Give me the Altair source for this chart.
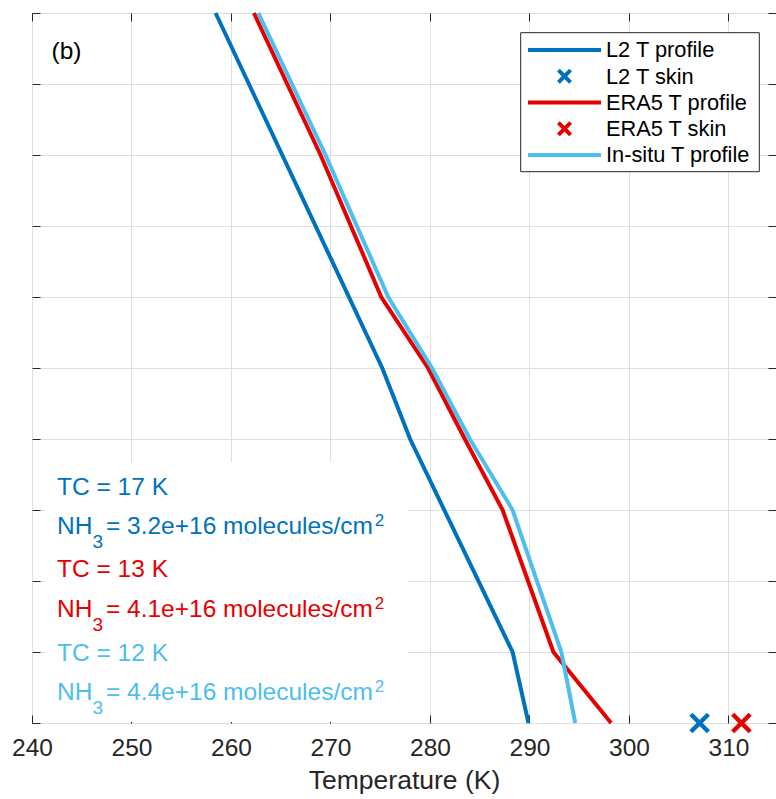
import altair as alt
import pandas as pd

# ---------------- data ----------------
series_names = ["L2 T profile", "L2 T skin", "ERA5 T profile", "ERA5 T skin", "In-situ T profile"]
series_colors = ["#0072BD", "#0072BD", "#E60000", "#E60000", "#4DBEEE"]

l2_level = [10, 5, 4, 1, 0]
l2_temp = [258.45, 275.2, 278.0, 288.3, 289.9]

era5_level = [10, 8, 6, 5, 4, 3, 1, 0]
era5_temp = [262.3, 269.0, 275.1, 279.8, 283.5, 287.3, 292.4, 298.2]

insitu_level = [10, 8, 6, 5, 4, 3, 1, 0]
insitu_temp = [262.75, 269.5, 275.8, 280.2, 284.0, 288.3, 293.2, 294.6]

skin_names = ["L2 T skin", "ERA5 T skin"]
skin_temp = [307.1, 311.3]
skin_level = [0, 0]

x_tick_values = [240, 250, 260, 270, 280, 290, 300, 310]
y_tick_values = [0, 1, 2, 3, 4, 5, 6, 7, 8, 9, 10]
x_title = "Temperature (K)"
panel_label = "(b)"

tc_texts = ["TC = 17 K", "TC = 13 K", "TC = 12 K"]
nh3_values = ["3.2e+16", "4.1e+16", "4.4e+16"]
annot_colors = ["#0072BD", "#E60000", "#4DBEEE"]

# ---------------- style / layout ----------------
FONT = "Liberation Sans"
INK = "#262626"
GRID = "#DFDFDF"
TICK = 8
LEFT, TOP = 32, 13
W, H = 744, 710
XPATH = "M-1,-1L1,1M1,-1L-1,1"


def px(x):
    return x - LEFT


def py(y):
    return y - TOP


ARIAL = {str(d): 0.556 for d in range(10)}
ARIAL.update({'.': 0.278, 'e': 0.556, '+': 0.584, '=': 0.584, ' ': 0.278, 'm': 0.833,
              'o': 0.556, 'l': 0.222, 'c': 0.5, 'u': 0.556, 's': 0.5, '/': 0.278,
              'N': 0.722, 'H': 0.722})


def tw(s, size):
    return sum(ARIAL.get(c, 0.556) for c in s) * size


def profile(name, temps, levels):
    return pd.DataFrame({"series": name, "temp": temps, "level": levels,
                         "idx": list(range(len(temps)))})


prof12 = pd.concat([profile("L2 T profile", l2_temp, l2_level),
                    profile("ERA5 T profile", era5_temp, era5_level)], ignore_index=True)
insitu_df = profile("In-situ T profile", insitu_temp, insitu_level)
skin_df = pd.DataFrame({"series": skin_names, "temp": skin_temp, "level": skin_level})
one = pd.DataFrame({"a": [0]})

color_scale = alt.Scale(domain=series_names, range=series_colors)
xs = alt.Scale(domain=[240, 240 + W / 9.95], nice=False, zero=False)
ys = alt.Scale(domain=[0, 10], nice=False, zero=False)

grid_x = alt.Axis(orient="bottom", values=x_tick_values, grid=True, gridColor=GRID, gridOpacity=1,
                  ticks=False, labels=False, domain=False, title=None)
grid_y = alt.Axis(orient="left", values=y_tick_values, grid=True, gridColor=GRID, gridOpacity=1,
                  ticks=False, labels=False, domain=False, title=None)
bottom_x = alt.Axis(orient="bottom", values=x_tick_values, grid=False, domain=False,
                    ticks=True, tickSize=TICK, tickColor=INK, tickWidth=1, offset=-TICK,
                    labels=True, labelFont=FONT, labelFontSize=24.5, labelColor=INK,
                    labelPadding=13, labelFlush=False, labelOverlap=False, format="d",
                    title=x_title, titleFont=FONT, titleFontSize=26.5, titleFontWeight="normal",
                    titleColor=INK, titlePadding=8)
left_y = alt.Axis(orient="left", values=y_tick_values, grid=False, domain=False,
                  ticks=True, tickSize=TICK, tickColor=INK, tickWidth=1, offset=-TICK,
                  labels=False, title=None)
top_x = alt.Axis(orient="top", values=x_tick_values, grid=False, domain=False,
                 ticks=True, tickSize=TICK, tickColor=INK, tickWidth=1, offset=-TICK,
                 labels=False, title=None)
right_y = alt.Axis(orient="right", values=y_tick_values, grid=False, domain=False,
                   ticks=True, tickSize=TICK, tickColor=INK, tickWidth=1, offset=-TICK,
                   labels=False, title=None)

# white background of the text block
box = alt.Chart(one).mark_rect(color="white").encode(
    x=alt.value(px(45)), x2=alt.value(px(408)), y=alt.value(py(461.7)), y2=alt.value(py(722)))

lines12 = alt.Chart(prof12).mark_line(strokeWidth=4).encode(
    x=alt.X("temp:Q", scale=xs, axis=grid_x),
    y=alt.Y("level:Q", scale=ys, axis=grid_y),
    color=alt.Color("series:N", scale=color_scale, legend=None),
    order="idx:Q")

skin = alt.Chart(skin_df).mark_point(shape=XPATH, filled=False, size=306, strokeWidth=4.5,
                                     opacity=1).encode(
    x=alt.X("temp:Q", scale=xs, axis=bottom_x),
    y=alt.Y("level:Q", scale=ys, axis=left_y),
    color=alt.Color("series:N", scale=color_scale, legend=None))

insitu = alt.Chart(insitu_df).mark_line(strokeWidth=4).encode(
    x=alt.X("temp:Q", scale=xs, axis=top_x),
    y=alt.Y("level:Q", scale=ys, axis=right_y),
    color=alt.Color("series:N", scale=color_scale, legend=None),
    order="idx:Q")

layers = [box, lines12, skin, insitu]


def txt(s, x, y, size, color, baseline="alphabetic"):
    return alt.Chart(one).mark_text(text=s, align="left", baseline=baseline, font=FONT,
                                    fontSize=size, color=color).encode(
        x=alt.value(px(x)), y=alt.value(py(y)))


# panel label
layers.append(txt(panel_label, 51.5, 59, 24.5, "black"))

# annotation block
tc_base = [494.5, 577, 660.5]
nh_base = [534, 617, 700]
FS, SUB, SUP = 24.5, 19, 17
for i in range(3):
    c = annot_colors[i]
    x0 = 57
    layers.append(txt(tc_texts[i], x0, tc_base[i], FS, c))
    layers.append(txt("NH", x0, nh_base[i], FS, c))
    xs3 = x0 + tw("NH", FS)
    layers.append(txt("3", xs3, nh_base[i] + 14, SUB, c))
    rest = "= " + nh3_values[i] + " molecules/cm"
    xr = xs3 + 0.556 * SUB + 3
    layers.append(txt(rest, xr, nh_base[i], FS, c))
    layers.append(txt("2", xr + tw(rest, FS) + 2, nh_base[i] - 8, SUP, c))

# legend
layers.append(alt.Chart(one).mark_rect(fill="white", stroke=INK, strokeWidth=1).encode(
    x=alt.value(px(520.7)), x2=alt.value(px(759.3)), y=alt.value(py(32.7)), y2=alt.value(py(171.7))))
row_y = [50, 76.3, 102.5, 128.8, 155]
for i, name in enumerate(series_names):
    c = series_colors[i]
    if "skin" in name:
        layers.append(alt.Chart(one).mark_point(shape=XPATH, filled=False, size=149,
                                                strokeWidth=4, opacity=1, color=c).encode(
            x=alt.value(px(564.5)), y=alt.value(py(row_y[i]))))
    else:
        layers.append(alt.Chart(one).mark_rule(strokeWidth=4, color=c).encode(
            x=alt.value(px(528)), x2=alt.value(px(601)), y=alt.value(py(row_y[i]))))
    layers.append(txt(name, 606, row_y[i] + 7.3, 21.8, "black"))

chart = alt.layer(*layers).resolve_axis(x="independent", y="independent").properties(
    width=W, height=H,
    autosize=alt.AutoSizeParams(type="none"),
    padding={"left": LEFT, "top": TOP, "right": 0, "bottom": 799 - TOP - H},
    background="white",
).configure_view(stroke=INK, strokeWidth=1)

chart.save("out.html", embed_options={"renderer": "svg", "actions": False})
